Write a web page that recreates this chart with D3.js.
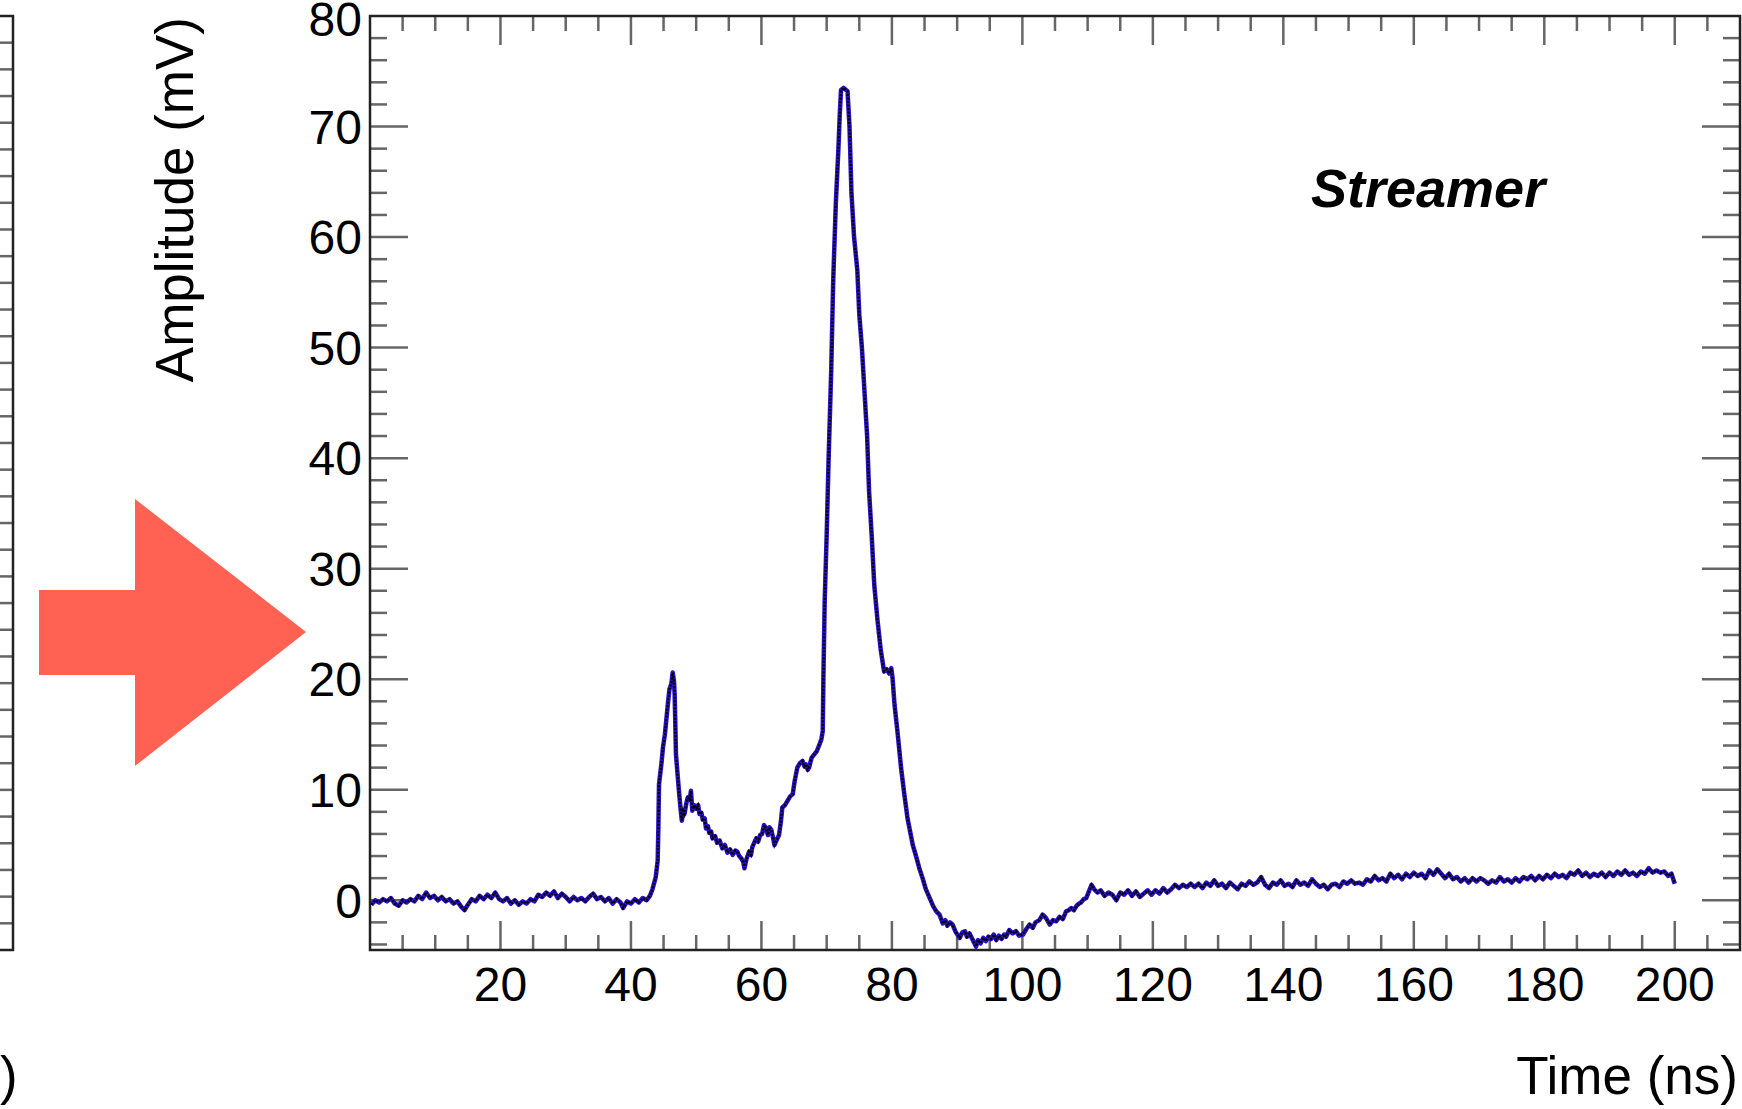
<!DOCTYPE html>
<html>
<head>
<meta charset="utf-8">
<script src="https://cdn.jsdelivr.net/npm/d3@7"></script>
<style>
  body { margin: 0; background: #fff; }
  text { font-family: "Liberation Sans", Arial, Helvetica, sans-serif; fill: #000; }
</style>
</head>
<body>
<script>
// Streamer waveform, amplitude vs time

var width = 1742;
var height = 1109;

// tick labels
var xTickValues = [20, 40, 60, 80, 100, 120, 140, 160, 180, 200];
var yTickValues = [0, 10, 20, 30, 40, 50, 60, 70, 80];

// waveform: [time (ns), amplitude (mV)]
var waveform = [
  [0.2,-0.4],[0.8,0.0],[1.4,-0.2],[2.0,0.1],[2.6,-0.1],[3.2,0.2],[3.8,-0.3],[4.4,-0.5],[5.0,0.0],[5.6,-0.2],
  [6.2,0.1],[6.8,-0.1],[7.4,0.4],[8.0,0.1],[8.6,0.7],[9.2,0.2],[9.8,0.4],[10.4,0.0],[11.0,0.3],[11.6,-0.1],
  [12.2,0.1],[12.8,-0.3],[13.4,-0.1],[14.0,-0.6],[14.5,-0.9],[15.0,-0.4],[15.6,0.1],[16.2,-0.1],[16.8,0.4],[17.4,0.1],
  [18.0,0.5],[18.6,0.2],[19.2,0.7],[19.8,0.1],[20.4,-0.1],[21.0,0.2],[21.6,-0.3],[22.2,0.0],[22.8,-0.4],[23.4,-0.1],
  [24.0,-0.3],[24.6,0.1],[25.2,-0.1],[25.8,0.5],[26.4,0.3],[27.0,0.7],[27.6,0.4],[28.2,0.8],[28.8,0.2],[29.4,0.6],
  [30.0,0.3],[30.6,-0.1],[31.2,0.3],[31.8,0.0],[32.4,0.2],[33.0,-0.1],[33.6,0.3],[34.2,0.6],[34.8,0.1],[35.4,0.3],
  [36.0,-0.1],[36.6,0.2],[37.2,-0.3],[37.8,0.1],[38.4,-0.2],[38.8,-0.7],[39.4,-0.1],[40.0,-0.3],[40.6,0.1],[41.2,-0.2],
  [41.8,0.2],[42.4,0.0],[42.9,0.4],[43.3,1.0],[43.8,2.1],[44.1,3.6],[44.2,6.5],[44.3,10.5],[44.7,12.5],[44.9,13.8],
  [45.2,15.0],[45.4,16.2],[45.7,18.0],[45.9,19.1],[46.2,19.6],[46.4,20.6],[46.6,19.8],[46.7,18.6],[46.8,16.0],[46.9,13.2],
  [47.2,11.0],[47.4,9.6],[47.6,8.3],[47.8,7.2],[48.0,8.1],[48.2,7.8],[48.5,8.8],[48.7,9.3],[49.0,9.1],[49.2,9.9],
  [49.4,8.1],[49.7,8.6],[50.0,8.3],[50.3,8.6],[50.5,7.8],[50.8,7.9],[51.0,7.3],[51.3,7.4],[51.5,6.5],[51.8,6.7],
  [52.0,6.1],[52.3,6.2],[52.5,5.6],[52.9,5.8],[53.2,5.2],[53.6,5.4],[54.0,4.7],[54.4,5.0],[54.8,4.3],[55.2,4.6],
  [55.6,4.1],[56.0,4.5],[56.3,4.4],[56.6,4.0],[56.9,3.8],[57.2,3.5],[57.4,2.9],[57.7,3.7],[58.1,4.4],[58.4,4.1],
  [58.6,4.8],[58.9,5.2],[59.2,5.6],[59.5,5.3],[59.8,5.9],[60.1,6.0],[60.4,6.8],[60.7,6.5],[61.0,5.9],[61.2,6.6],
  [61.5,6.4],[61.8,5.6],[62.0,5.0],[62.3,5.4],[62.7,5.9],[63.0,7.2],[63.2,8.4],[63.6,8.6],[64.0,9.0],[64.4,9.4],
  [64.8,9.6],[65.1,10.8],[65.5,12.0],[65.9,12.4],[66.3,12.6],[66.6,12.1],[66.8,12.3],[67.1,11.8],[67.3,12.0],[67.7,12.9],
  [68.1,13.2],[68.5,13.5],[68.9,14.1],[69.2,14.6],[69.4,15.3],[69.5,20.1],[69.7,27.1],[70.0,33.0],[70.3,40.0],[70.7,48.0],
  [71.0,56.0],[71.4,63.0],[71.8,68.0],[72.0,71.0],[72.2,73.3],[72.6,73.5],[73.2,73.2],[73.5,70.0],[73.8,64.0],[74.2,60.0],
  [74.7,57.0],[75.0,53.0],[75.4,50.0],[75.8,46.0],[76.2,42.0],[76.5,37.0],[76.9,33.0],[77.3,28.5],[77.8,25.3],[78.3,22.6],
  [78.8,20.7],[79.2,20.9],[79.6,20.5],[79.9,21.0],[80.1,20.1],[80.4,17.7],[80.9,15.0],[81.4,12.0],[81.9,9.6],[82.4,7.4],
  [82.8,6.2],[83.2,5.0],[83.7,4.0],[84.2,2.9],[84.7,2.0],[85.2,1.0],[85.8,0.2],[86.3,-0.5],[86.8,-1.0],[87.3,-1.3],
  [87.8,-2.1],[88.2,-1.8],[88.5,-2.3],[88.9,-2.0],[89.3,-2.2],[89.8,-2.9],[90.4,-3.4],[90.8,-2.9],[91.2,-2.8],[91.5,-3.3],
  [91.9,-3.0],[92.4,-3.6],[92.9,-4.2],[93.2,-3.6],[93.6,-3.9],[94.0,-3.4],[94.4,-3.7],[94.8,-3.3],[95.2,-3.5],[95.6,-3.1],
  [96.0,-3.6],[96.4,-3.2],[96.8,-3.5],[97.2,-3.1],[97.5,-3.3],[98.0,-2.7],[98.5,-3.0],[99.0,-2.8],[99.5,-3.2],[100.1,-3.1],
  [100.6,-2.6],[101.1,-2.2],[101.6,-2.5],[102.0,-2.0],[102.6,-1.8],[103.1,-1.3],[103.6,-1.6],[104.2,-2.2],[104.7,-1.8],[105.2,-1.9],
  [105.7,-1.5],[106.2,-1.7],[106.7,-1.0],[107.1,-0.9],[107.5,-0.7],[107.9,-0.9],[108.3,-0.5],[108.7,-0.3],[109.0,-0.2],[109.4,0.1],
  [109.8,0.2],[110.2,0.8],[110.6,1.4],[111.0,1.0],[111.5,0.7],[112.0,0.9],[112.6,0.4],[113.2,0.7],[113.8,0.5],[114.4,0.0],
  [115.0,0.7],[115.6,0.5],[116.2,0.9],[116.8,0.4],[117.4,0.8],[118.0,0.3],[118.6,0.6],[119.2,0.9],[119.8,0.5],[120.4,0.9],
  [121.0,0.6],[121.6,1.1],[122.2,0.7],[122.8,1.0],[123.4,1.4],[124.0,1.1],[124.6,1.4],[125.2,1.2],[125.8,1.5],[126.4,1.2],
  [127.0,1.5],[127.6,1.1],[128.2,1.6],[128.8,1.3],[129.4,1.8],[130.0,1.3],[130.6,1.5],[131.2,1.1],[131.8,1.6],[132.4,1.3],
  [133.0,1.0],[133.6,1.5],[134.2,1.3],[134.8,1.7],[135.4,1.4],[136.0,1.6],[136.6,2.1],[137.2,1.4],[137.8,1.1],[138.4,1.6],
  [139.0,1.4],[139.6,1.8],[140.2,1.3],[140.8,1.5],[141.4,1.2],[142.0,1.8],[142.6,1.4],[143.2,1.6],[143.8,1.3],[144.4,1.9],
  [145.0,1.5],[145.6,1.2],[146.2,1.4],[146.8,1.0],[147.4,1.4],[148.0,1.5],[148.6,1.2],[149.2,1.7],[149.8,1.5],[150.4,1.8],
  [151.0,1.5],[151.6,1.6],[152.2,1.4],[152.8,1.9],[153.4,1.7],[154.0,2.2],[154.6,1.8],[155.2,2.0],[155.8,1.7],[156.4,2.4],
  [157.0,2.0],[157.6,2.3],[158.2,1.9],[158.8,2.4],[159.4,2.1],[160.0,2.5],[160.6,2.2],[161.2,2.4],[161.8,2.0],[162.4,2.7],
  [163.0,2.3],[163.6,2.8],[164.2,2.4],[164.8,2.0],[165.4,2.4],[166.0,1.9],[166.6,2.1],[167.2,1.7],[167.8,2.0],[168.4,1.6],
  [169.0,2.0],[169.6,1.7],[170.2,2.0],[170.8,1.8],[171.4,1.5],[172.0,1.8],[172.6,1.6],[173.2,2.1],[173.8,1.7],[174.4,1.9],
  [175.0,1.6],[175.6,2.0],[176.2,1.7],[176.8,2.1],[177.4,1.9],[178.0,2.2],[178.6,1.8],[179.2,2.2],[179.8,1.9],[180.4,2.3],
  [181.0,2.0],[181.6,2.4],[182.2,2.1],[182.8,2.3],[183.4,2.0],[184.0,2.5],[184.6,2.3],[185.2,2.7],[185.8,2.2],[186.4,2.5],
  [187.0,2.1],[187.6,2.4],[188.2,2.2],[188.8,2.5],[189.4,2.1],[190.0,2.5],[190.6,2.2],[191.2,2.6],[191.8,2.3],[192.4,2.7],
  [193.0,2.3],[193.6,2.5],[194.2,2.2],[194.8,2.6],[195.4,2.4],[196.0,2.9],[196.6,2.5],[197.2,2.7],[197.8,2.5],[198.4,2.6],
  [199.0,2.2],[199.5,2.4],[200.0,1.5]
];

var frameLeft = 370, frameRight = 1740, frameTop = 16, frameBottom = 950;

var body = d3.select("body");
var graphics = body.append("svg")
    .attr("width", width)
    .attr("height", height);

var x = d3.scaleLinear().domain([0, 210]).range([frameLeft, frameRight]);
var y = d3.scaleLinear().domain([-4.5, 80]).range([frameBottom, frameTop]);

var tickColor = "#666666";

// ---- neighbouring panel (only its right edge shows) ----
var yLeft = d3.scaleLinear().domain([0, 35]).range([frameBottom, frameTop]);
d3.range(1, 35).forEach(function(t) {
    graphics.append("line")
        .attr("x1", 0).attr("x2", 13)
        .attr("y1", yLeft(t)).attr("y2", yLeft(t))
        .attr("stroke", tickColor).attr("stroke-width", 2.5);
});
graphics.append("path")
    .attr("d", "M0," + frameTop + "H13V" + frameBottom + "H0")
    .attr("fill", "none").attr("stroke", "#222").attr("stroke-width", 2.5);
// only the closing bracket of that panel's x title is in view
graphics.append("text")
    .attr("x", 0).attr("y", 1094)
    .style("font-size", "53px")
    .text(")");

// ---- red arrow ----
graphics.append("polygon")
    .attr("points", [[39,590],[135,590],[135,499],[306,632],[135,766],[135,675],[39,675]].join(" "))
    .attr("fill", "#ff6152");

// ---- ticks ----
var xMinor = d3.range(5, 210, 5);
xMinor.forEach(function(t) {
    var major = (t % 20 === 0);
    var len = major ? 29 : 15;
    graphics.append("line")
        .attr("x1", x(t)).attr("x2", x(t))
        .attr("y1", frameBottom).attr("y2", frameBottom - len)
        .attr("stroke", tickColor).attr("stroke-width", 2.5);
    graphics.append("line")
        .attr("x1", x(t)).attr("x2", x(t))
        .attr("y1", frameTop).attr("y2", frameTop + len)
        .attr("stroke", tickColor).attr("stroke-width", 2.5);
});

var yMinor = d3.range(-4, 80, 2);
yMinor.forEach(function(t) {
    var major = (t % 10 === 0);
    var len = major ? 38 : 17;
    graphics.append("line")
        .attr("x1", frameLeft).attr("x2", frameLeft + len)
        .attr("y1", y(t)).attr("y2", y(t))
        .attr("stroke", tickColor).attr("stroke-width", 2.5);
    graphics.append("line")
        .attr("x1", frameRight).attr("x2", frameRight - len)
        .attr("y1", y(t)).attr("y2", y(t))
        .attr("stroke", tickColor).attr("stroke-width", 2.5);
});

// ---- waveform ----
graphics.append("clipPath").attr("id", "frameclip")
    .append("rect")
    .attr("x", frameLeft).attr("y", frameTop)
    .attr("width", frameRight - frameLeft).attr("height", frameBottom - frameTop);

var line = d3.line()
    .x(function(d) { return x(d[0]); })
    .y(function(d) { return y(d[1]); });

graphics.append("path")
    .datum(waveform)
    .attr("d", line)
    .attr("clip-path", "url(#frameclip)")
    .attr("fill", "none")
    .attr("stroke", "#2a10c8")
    .attr("stroke-width", 4.5)
    .attr("stroke-linejoin", "round");

graphics.append("path")
    .datum(waveform)
    .attr("d", line)
    .attr("clip-path", "url(#frameclip)")
    .attr("fill", "none")
    .attr("stroke", "#000")
    .attr("stroke-width", 2.4)
    .attr("stroke-dasharray", "2,1.5");

// ---- frame ----
graphics.append("rect")
    .attr("x", frameLeft).attr("y", frameTop)
    .attr("width", frameRight - frameLeft).attr("height", frameBottom - frameTop)
    .attr("fill", "none").attr("stroke", "#222").attr("stroke-width", 2.5);

// ---- tick labels ----
xTickValues.forEach(function(t) {
    graphics.append("text")
        .attr("x", x(t)).attr("y", 1001)
        .attr("text-anchor", "middle")
        .style("font-size", "48px")
        .text(t);
});

yTickValues.forEach(function(t) {
    graphics.append("text")
        .attr("x", 362).attr("y", Math.max(y(t), 19))
        .attr("dy", "0.36em")
        .attr("text-anchor", "end")
        .style("font-size", "48px")
        .text(t);
});

// ---- axis titles ----
graphics.append("text")
    .attr("x", 1738).attr("y", 1094)
    .attr("text-anchor", "end")
    .style("font-size", "53px")
    .text("Time (ns)");

graphics.append("text")
    .attr("transform", "translate(193,17) rotate(-90)")
    .attr("text-anchor", "end")
    .style("font-size", "53px")
    .text("Amplitude (mV)");

// ---- label ----
graphics.append("text")
    .attr("x", 1311).attr("y", 207)
    .style("font-size", "54px")
    .style("font-weight", "bold")
    .style("font-style", "italic")
    .text("Streamer");
</script>
</body>
</html>
